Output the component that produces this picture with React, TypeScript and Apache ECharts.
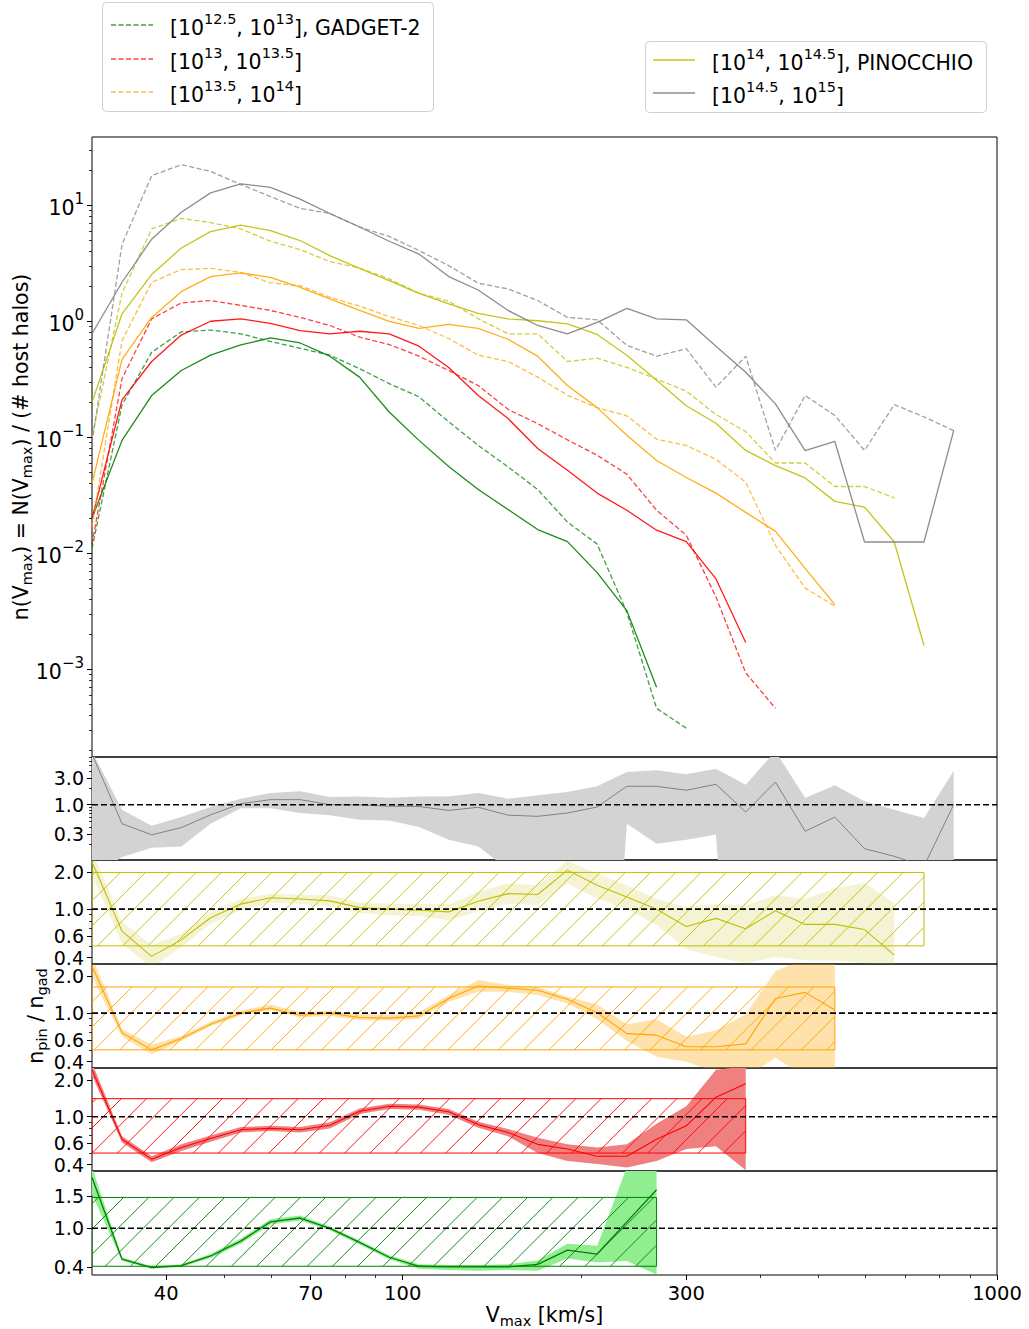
import React, { useEffect, useRef } from "react";
import * as echarts from "echarts";

// ---------------- data ----------------
const vmaxBins = [30, 33.7, 37.8, 42.4, 47.5, 53.4, 59.9, 67.2, 75.4, 84.6, 94.9, 106.5, 119.5, 134.0, 150.4, 168.7, 189.3, 212.4, 238.3, 267.4, 300.0, 336.6, 377.7, 423.8, 475.5, 533.5, 598.6, 671.6, 753.6, 845.5];

// main panel: n(Vmax), GADGET-2 (dashed) and PINOCCHIO (solid)
const gadGreen = [0.011, 0.19, 0.54, 0.81, 0.84, 0.78, 0.67, 0.585, 0.51, 0.39, 0.29, 0.223, 0.136, 0.085, 0.0555, 0.0354, 0.0186, 0.012, 0.0031, 0.00046, 0.00031];
const pinGreen = [0.02, 0.094, 0.229, 0.376, 0.51, 0.625, 0.72, 0.65, 0.5, 0.33, 0.165, 0.094, 0.056, 0.0354, 0.0238, 0.016, 0.0126, 0.0068, 0.0032, 0.0007];
const gadRed = [0.012, 0.32, 1.05, 1.44, 1.51, 1.37, 1.24, 1.08, 0.92, 0.73, 0.63, 0.5, 0.376, 0.279, 0.174, 0.131, 0.095, 0.07, 0.048, 0.0235, 0.0143, 0.0042, 0.00093, 0.00046];
const pinRed = [0.02, 0.21, 0.45, 0.76, 1.0, 1.05, 0.96, 0.83, 0.78, 0.82, 0.78, 0.61, 0.4, 0.229, 0.145, 0.08, 0.052, 0.033, 0.0235, 0.0158, 0.0126, 0.006, 0.0017];
const gadOrange = [0.017, 0.68, 2.17, 2.79, 2.86, 2.64, 2.14, 2.03, 1.61, 1.35, 1.1, 0.92, 0.71, 0.51, 0.45, 0.33, 0.23, 0.18, 0.153, 0.096, 0.085, 0.0645, 0.041, 0.0117, 0.005, 0.0035];
const pinOrange = [0.04, 0.47, 1.08, 1.8, 2.43, 2.61, 2.39, 1.96, 1.56, 1.24, 1.0, 0.87, 0.94, 0.87, 0.7, 0.5, 0.279, 0.18, 0.104, 0.063, 0.045, 0.033, 0.0225, 0.0155, 0.0074, 0.0036];
const gadYellow = [0.1, 1.75, 6.25, 7.7, 7.1, 6.25, 4.9, 4.15, 3.27, 2.88, 2.32, 1.74, 1.49, 1.05, 0.78, 0.78, 0.45, 0.48, 0.4, 0.318, 0.25, 0.157, 0.112, 0.06, 0.06, 0.0376, 0.0376, 0.03];
const pinYellow = [0.2, 1.16, 2.53, 4.28, 5.93, 6.76, 6.04, 4.97, 3.68, 2.86, 2.24, 1.74, 1.41, 1.17, 1.05, 1.01, 0.95, 0.77, 0.51, 0.31, 0.187, 0.132, 0.077, 0.057, 0.0446, 0.028, 0.025, 0.0125, 0.0016];
const gadGray = [0.09, 4.6, 18, 22.4, 19.6, 15.1, 11.9, 9.4, 8.5, 6.5, 5.4, 4.07, 3.02, 2.13, 1.9, 1.51, 1.08, 1.03, 0.62, 0.5, 0.58, 0.27, 0.5, 0.077, 0.229, 0.154, 0.077, 0.191, 0.15, 0.114];
const pinGray = [0.78, 2.17, 5.1, 8.7, 12.8, 15.3, 14.3, 11.3, 8.5, 6.5, 4.9, 3.8, 2.43, 1.86, 1.24, 0.92, 0.78, 0.98, 1.29, 1.05, 1.03, 0.61, 0.363, 0.194, 0.0767, 0.092, 0.0125, 0.0125, 0.0125, 0.114];

// ratio panels: n_pin / n_gad, with lower/upper band
const ratioGray = [8, 0.458, 0.29, 0.39, 0.66, 1.04, 1.23, 1.23, 1.0, 0.99, 0.94, 0.93, 0.79, 0.9, 0.65, 0.62, 0.71, 0.91, 2.13, 2.13, 1.81, 2.31, 0.74, 2.54, 0.335, 0.6, 0.164, 0.12, 0.08, 1.0];
const ratioGrayHi = [9, 0.81, 0.42, 0.6, 0.91, 1.28, 1.62, 1.73, 1.37, 1.4, 1.33, 1.4, 1.4, 1.62, 1.28, 1.47, 1.69, 2.13, 3.84, 4.11, 3.49, 4.4, 2.28, 9, 1.32, 2.22, 1.15, 0.81, 0.58, 4.0];
const ratioGrayLo = [0.05, 0.117, 0.17, 0.18, 0.458, 0.86, 0.86, 0.71, 0.65, 0.54, 0.52, 0.4, 0.237, 0.18, 0.07, 0.04, 0.03, 0, 0.458, 0.2, 0.237, 0.295, 0, 0, 0, 0, 0, 0, 0, 0];

const ratioYellow = [2.45, 0.66, 0.41, 0.56, 0.85, 1.1, 1.24, 1.21, 1.17, 1.03, 1.0, 0.98, 0.95, 1.16, 1.34, 1.32, 2.09, 1.57, 1.26, 1.0, 0.72, 0.84, 0.69, 0.97, 0.75, 0.75, 0.68, 0.42];
const ratioYellowHi = [3.0, 0.79, 0.506, 0.63, 0.95, 1.22, 1.34, 1.31, 1.3, 1.13, 1.11, 1.11, 1.09, 1.39, 1.62, 1.57, 2.5, 1.96, 1.57, 1.22, 1.04, 1.1, 1.07, 1.3, 1.22, 1.48, 1.65, 1.12];
const ratioYellowLo = [1.9, 0.52, 0.33, 0.49, 0.76, 0.98, 1.13, 1.1, 1.05, 0.93, 0.89, 0.88, 0.81, 0.96, 1.11, 1.08, 1.62, 1.22, 1.0, 0.74, 0.47, 0.405, 0.36, 0.405, 0.38, 0.38, 0.36, 0.3];

const ratioOrange = [2.44, 0.69, 0.5, 0.62, 0.81, 1.0, 1.1, 0.96, 1.0, 0.92, 0.91, 0.95, 1.32, 1.67, 1.6, 1.54, 1.3, 1.01, 0.68, 0.66, 0.53, 0.53, 0.56, 1.32, 1.48, 1.06];
const ratioOrangeHi = [2.9, 0.74, 0.55, 0.65, 0.85, 1.05, 1.17, 1.02, 1.05, 0.98, 0.97, 1.02, 1.4, 1.87, 1.7, 1.64, 1.36, 1.18, 0.81, 0.89, 0.64, 0.72, 0.98, 2.22, 2.8, 2.8];
const ratioOrangeLo = [2.0, 0.64, 0.46, 0.59, 0.78, 0.96, 1.05, 0.92, 0.95, 0.88, 0.87, 0.9, 1.24, 1.5, 1.5, 1.41, 1.2, 0.89, 0.59, 0.44, 0.4, 0.33, 0.3, 0.43, 0.3, 0.3];

const ratioRed = [2.45, 0.65, 0.445, 0.556, 0.66, 0.78, 0.8, 0.78, 0.85, 1.11, 1.22, 1.2, 1.1, 0.86, 0.74, 0.59, 0.54, 0.47, 0.47, 0.65, 0.84, 1.45, 1.87];
const ratioRedHi = [2.8, 0.69, 0.47, 0.59, 0.7, 0.82, 0.84, 0.82, 0.9, 1.17, 1.28, 1.26, 1.16, 0.91, 0.79, 0.67, 0.59, 0.556, 0.59, 0.875, 1.22, 2.45, 2.6];
const ratioRedLo = [2.2, 0.61, 0.42, 0.52, 0.62, 0.74, 0.76, 0.74, 0.8, 1.05, 1.16, 1.14, 1.04, 0.81, 0.69, 0.5, 0.43, 0.405, 0.38, 0.43, 0.54, 0.57, 0.36];

const ratioGreen = [1.79, 0.52, 0.39, 0.42, 0.57, 0.8, 1.1, 1.16, 1.0, 0.78, 0.55, 0.41, 0.4, 0.4, 0.4, 0.44, 0.66, 0.6, 1.1, 1.6];
const ratioGreenHi = [1.95, 0.55, 0.41, 0.44, 0.6, 0.84, 1.14, 1.2, 1.03, 0.81, 0.58, 0.44, 0.43, 0.43, 0.44, 0.5, 0.76, 0.73, 1.95, 2.0];
const ratioGreenLo = [1.53, 0.49, 0.37, 0.4, 0.54, 0.76, 1.06, 1.12, 0.97, 0.75, 0.52, 0.37, 0.35, 0.34, 0.35, 0.34, 0.53, 0.47, 0.49, 0.28];

// hatched tolerance boxes (yellow, orange, red, green)
const hatchLow = [0.5, 0.5, 0.5, 0.41];
const hatchHigh = [2.0, 1.64, 1.41, 1.48];
const hatchEndV = [753.6, 533.5, 377.7, 267.4];

// axes
const xRange = [30, 1000];
const xTickLabels = [40, 70, 100, 300, 1000];
const xMinorTicks = [50, 60, 80, 90, 200, 400, 500, 600, 700, 800, 900];
const mainYRange = [1.75e-4, 38.8];
const mainYExponents = [-3, -2, -1, 0, 1];
const grayRange = [0.103, 7.1];
const grayTicks = [0.3, 1.0, 3.0];
const grayMinor = [0.2, 0.4, 0.5, 0.6, 0.7, 0.8, 0.9, 2, 4, 5, 6, 7];
const midRange = [0.355, 2.53];
const midTicks = [0.4, 0.6, 1.0, 2.0];
const midMinor = [0.5, 0.7, 0.8, 0.9];
const greenRange = [0.274, 1.891];
const greenTicks = [0.4, 1.0, 1.5];

// ---------------- styling ----------------
const FONT = "DejaVu Sans";
const FS = 19.5;
const RFS = 19;
const GREEN = "#008000";
const RED = "#ff0000";
const ORANGE = "#ffa500";
const YELLOW = "#bfbf00";
const GRAY = "#808080";

const lg = (v: number) => (v > 0 ? Math.log10(v) : -8);
const X0 = lg(xRange[0]);
const X1 = lg(xRange[1]);

const makeSupRich = (fs: number, sfs: number) => ({
  n: { fontSize: fs, fontFamily: FONT, lineHeight: 27, verticalAlign: "bottom", color: "#000", fill: "#000" },
  sup: { fontSize: sfs, fontFamily: FONT, lineHeight: 13, verticalAlign: "top", color: "#000", fill: "#000" },
});
const makeSubRich = (fs: number, sfs: number) => ({
  n: { fontSize: fs, fontFamily: FONT, lineHeight: 24, verticalAlign: "top", color: "#000", fill: "#000" },
  sub: { fontSize: sfs, fontFamily: FONT, lineHeight: 13, verticalAlign: "bottom", color: "#000", fill: "#000" },
});
const tickSupRich = makeSupRich(20.5, 15);
const legendRich = makeSupRich(20.5, 14.5);
const titleRich = makeSubRich(20.5, 14.5);

const GRIDS = [
  { top: 137, height: 620 },
  { top: 757, height: 103 },
  { top: 860, height: 104 },
  { top: 964, height: 104 },
  { top: 1068, height: 103 },
  { top: 1171, height: 104 },
];

function buildOption() {
  const grid = GRIDS.map((g) => ({
    left: 92,
    width: 905,
    top: g.top,
    height: g.height,
    containLabel: false,
    outerBoundsMode: "none",
    show: true,
    borderColor: "#000",
    borderWidth: 1,
    backgroundColor: "transparent",
  }));

  const hiddenX = (g: number) => ({
    type: "value",
    gridIndex: g,
    position: "bottom",
    min: X0,
    max: X1,
    axisLine: { show: false, onZero: false },
    axisTick: { show: false },
    axisLabel: { show: false },
    splitLine: { show: false },
  });

  const xAxis: any[] = [0, 1, 2, 3, 4].map(hiddenX);
  xAxis.push({
    ...hiddenX(5),
    axisTick: { show: true, length: 5, customValues: xTickLabels.map(lg), lineStyle: { color: "#000", width: 1 } },
    axisLabel: {
      show: true,
      customValues: xTickLabels.map(lg),
      formatter: (v: number) => String(Math.round(Math.pow(10, v))),
      margin: 8,
      fontSize: FS,
      fontFamily: FONT,
      color: "#000",
    },
    name: "{n|V}{sub|max}{n| [km/s]}",
    nameLocation: "middle",
    nameGap: 29,
    nameMoveOverlap: false,
    nameTextStyle: { rich: titleRich },
  });
  xAxis.push({
    ...hiddenX(5),
    axisTick: { show: true, length: 3, customValues: xMinorTicks.map(lg), lineStyle: { color: "#000", width: 0.8 } },
  });

  const majorY = (g: number, range: number[], ticks: number[], linear: boolean, fmt: (v: number) => string, fs: number, extra: any = {}) => ({
    type: "value",
    gridIndex: g,
    position: "left",
    min: linear ? range[0] : lg(range[0]),
    max: linear ? range[1] : lg(range[1]),
    axisLine: { show: false, onZero: false },
    splitLine: { show: false },
    axisTick: { show: true, length: 5, customValues: ticks.map((t) => (linear ? t : lg(t))), lineStyle: { color: "#000", width: 1 } },
    axisLabel: {
      show: true,
      customValues: ticks.map((t) => (linear ? t : lg(t))),
      formatter: fmt,
      margin: 8,
      fontSize: fs,
      fontFamily: FONT,
      lineHeight: 15,
      color: "#000",
      rich: tickSupRich,
    },
    ...extra,
  });
  const minorY = (g: number, range: number[], ticks: number[]) => ({
    type: "value",
    gridIndex: g,
    position: "left",
    offset: 0,
    min: lg(range[0]),
    max: lg(range[1]),
    axisLine: { show: false, onZero: false },
    splitLine: { show: false },
    axisLabel: { show: false },
    axisTick: { show: true, length: 3, customValues: ticks.map(lg), lineStyle: { color: "#000", width: 0.8 } },
  });

  const mainMinor: number[] = [];
  for (let d = -4; d <= 1; d++) {
    for (let m = 2; m <= 9; m++) {
      const v = m * Math.pow(10, d);
      if (v > mainYRange[0] && v < mainYRange[1]) mainMinor.push(v);
    }
  }

  const fmtRatio = (v: number) => Math.pow(10, v).toFixed(1);
  const yAxis: any[] = [
    majorY(0, mainYRange, mainYExponents.map((e) => Math.pow(10, e)), false,
      (v: number) => {
        const e = Math.round(v);
        return "{n|10}{sup|" + (e < 0 ? "\u2212" : "") + Math.abs(e) + "}";
      },
      FS,
      {
        name: "{n|n(V}{sub|max}{n|) = N(V}{sub|max}{n|) / (# host halos)}",
        nameLocation: "middle",
        nameRotate: 90,
        nameGap: 58,
        nameMoveOverlap: false,
        nameTextStyle: { rich: titleRich },
      }),
    majorY(1, grayRange, grayTicks, false, fmtRatio, RFS),
    majorY(2, midRange, midTicks, false, fmtRatio, RFS),
    majorY(3, midRange, midTicks, false, fmtRatio, RFS, {
      name: "{n|n}{sub|pin}{n| / n}{sub|gad}",
      nameLocation: "middle",
      nameRotate: 90,
      nameGap: 43,
      nameMoveOverlap: false,
      nameTextStyle: { rich: titleRich },
    }),
    majorY(4, midRange, midTicks, false, fmtRatio, RFS),
    majorY(5, greenRange, greenTicks, true, (v: number) => v.toFixed(1), RFS),
    minorY(0, mainYRange, mainMinor),
    minorY(1, grayRange, grayMinor),
    minorY(2, midRange, midMinor),
    minorY(3, midRange, midMinor),
    minorY(4, midRange, midMinor),
  ];

  const series: any[] = [];

  // main panel lines
  const mainLines: [number[], string, boolean][] = [
    [gadGreen, GREEN, true],
    [pinGreen, GREEN, false],
    [gadRed, RED, true],
    [pinRed, RED, false],
    [gadOrange, ORANGE, true],
    [pinOrange, ORANGE, false],
    [gadYellow, YELLOW, true],
    [pinYellow, YELLOW, false],
    [gadGray, GRAY, true],
    [pinGray, GRAY, false],
  ];
  mainLines.forEach(([arr, color, dashed]) => {
    series.push({
      type: "line",
      xAxisIndex: 0,
      yAxisIndex: 0,
      data: arr.map((v, i) => [lg(vmaxBins[i]), lg(v)]),
      symbol: "none",
      silent: true,
      lineStyle: { color, width: 1.3, type: dashed ? [5, 2.5] : "solid", opacity: dashed ? 0.75 : 0.9 },
    });
  });

  // ratio panels
  const panels = [
    { g: 1, line: ratioGray, hi: ratioGrayHi, lo: ratioGrayLo, color: GRAY, fill: "#d3d3d3", lw: 1, linear: false, hatch: -1 },
    { g: 2, line: ratioYellow, hi: ratioYellowHi, lo: ratioYellowLo, color: YELLOW, fill: "rgba(191,191,0,0.17)", lw: 1.1, linear: false, hatch: 0 },
    { g: 3, line: ratioOrange, hi: ratioOrangeHi, lo: ratioOrangeLo, color: ORANGE, fill: "rgba(255,165,0,0.33)", lw: 1.1, linear: false, hatch: 1 },
    { g: 4, line: ratioRed, hi: ratioRedHi, lo: ratioRedLo, color: RED, fill: "#f08080", lw: 1.1, linear: false, hatch: 2 },
    { g: 5, line: ratioGreen, hi: ratioGreenHi, lo: ratioGreenLo, color: GREEN, fill: "#90ee90", lw: 1.3, linear: true, hatch: 3 },
  ];

  panels.forEach((p) => {
    const ty = (v: number) => (p.linear ? v : lg(v));
    const hi = p.hi, lo = p.lo;
    // uncertainty band
    series.push({
      type: "custom",
      xAxisIndex: p.g,
      yAxisIndex: p.g,
      clip: true,
      silent: true,
      data: [[X0, ty(1)]],
      renderItem: (params: any, api: any) => {
        const pts: number[][] = [];
        for (let i = 0; i < hi.length; i++) pts.push(api.coord([lg(vmaxBins[i]), ty(hi[i])]));
        for (let i = lo.length - 1; i >= 0; i--) pts.push(api.coord([lg(vmaxBins[i]), ty(lo[i])]));
        return { type: "polygon", shape: { points: pts }, style: { fill: p.fill } };
      },
    });
    // hatched box
    if (p.hatch >= 0) {
      const h = p.hatch;
      series.push({
        type: "custom",
        xAxisIndex: p.g,
        yAxisIndex: p.g,
        clip: true,
        silent: true,
        data: [[X0, ty(hatchLow[h]), lg(hatchEndV[h]), ty(hatchHigh[h])]],
        renderItem: (params: any, api: any) => {
          const a = api.coord([api.value(0), api.value(3)]);
          const b = api.coord([api.value(2), api.value(1)]);
          const x0 = a[0], yT = a[1], x1 = b[0], yB = b[1];
          const children: any[] = [
            { type: "rect", shape: { x: x0, y: yT, width: x1 - x0, height: yB - yT }, style: { fill: "none", stroke: p.color, lineWidth: 1 } },
          ];
          const step = 25.25;
          const phase = 8;
          const cStart = Math.ceil((x0 + yT - phase) / step) * step + phase;
          for (let c = cStart; c <= x1 + yB; c += step) {
            const xa = Math.max(x0, c - yB);
            const xb = Math.min(x1, c - yT);
            if (xb > xa) {
              children.push({ type: "line", shape: { x1: xa, y1: c - xa, x2: xb, y2: c - xb }, style: { stroke: p.color, lineWidth: 0.9 } });
            }
          }
          return { type: "group", children };
        },
      });
    }
    // ratio line
    series.push({
      type: "line",
      xAxisIndex: p.g,
      yAxisIndex: p.g,
      data: p.line.map((v, i) => [lg(vmaxBins[i]), ty(v)]),
      symbol: "none",
      silent: true,
      lineStyle: { color: p.color, width: p.lw },
    });
    // reference line at 1
    series.push({
      type: "line",
      xAxisIndex: p.g,
      yAxisIndex: p.g,
      data: [[X0, ty(1)], [X1, ty(1)]],
      symbol: "none",
      silent: true,
      lineStyle: { color: "#000", width: 1.6, type: [6, 3] },
    });
  });

  // legends
  const legendText = (x: number, y: number, text: string) => ({
    type: "text",
    x,
    y,
    z: 100,
    style: { text, rich: legendRich, fill: "#000", fontSize: 20.5, fontFamily: FONT, align: "left", verticalAlign: "middle" },
  });
  const legendLine = (x1: number, x2: number, y: number, color: string, dashed: boolean) => ({
    type: "line",
    z: 100,
    shape: { x1, y1: y, x2, y2: y },
    style: { stroke: color, lineWidth: 1.3, lineDash: dashed ? [5, 2.5] : null, opacity: dashed ? 0.75 : 0.9 },
  });
  const graphic = [
    { type: "rect", z: 99, shape: { x: 102.5, y: 2.5, width: 331, height: 109, r: 4 }, style: { fill: "rgba(255,255,255,0.8)", stroke: "#d0d0d0", lineWidth: 1 } },
    legendLine(111, 153, 25, GREEN, true),
    legendText(170, 25, "{n|[10}{sup|12.5}{n|, 10}{sup|13}{n|], GADGET-2}"),
    legendLine(111, 153, 59, RED, true),
    legendText(170, 59, "{n|[10}{sup|13}{n|, 10}{sup|13.5}{n|]}"),
    legendLine(111, 153, 92, ORANGE, true),
    legendText(170, 92, "{n|[10}{sup|13.5}{n|, 10}{sup|14}{n|]}"),
    { type: "rect", z: 99, shape: { x: 645.5, y: 41.5, width: 341, height: 71, r: 4 }, style: { fill: "rgba(255,255,255,0.8)", stroke: "#d0d0d0", lineWidth: 1 } },
    legendLine(653, 695, 60, YELLOW, false),
    legendText(712, 60, "{n|[10}{sup|14}{n|, 10}{sup|14.5}{n|], PINOCCHIO}"),
    legendLine(653, 695, 93, GRAY, false),
    legendText(712, 93, "{n|[10}{sup|14.5}{n|, 10}{sup|15}{n|]}"),
  ];

  return {
    animation: false,
    backgroundColor: "#ffffff",
    textStyle: { fontFamily: FONT },
    grid,
    xAxis,
    yAxis,
    series,
    graphic,
  };
}

export default function App() {
  const ref = useRef<HTMLDivElement>(null);
  useEffect(() => {
    if (!ref.current) return;
    const chart = echarts.init(ref.current, null, { renderer: "svg" });
    chart.setOption(buildOption() as any);
    return () => chart.dispose();
  }, []);
  return (
    <div
      ref={ref}
      style={{ position: "absolute", left: 0, top: 0, width: 1029, height: 1329, background: "#fff" }}
    />
  );
}
